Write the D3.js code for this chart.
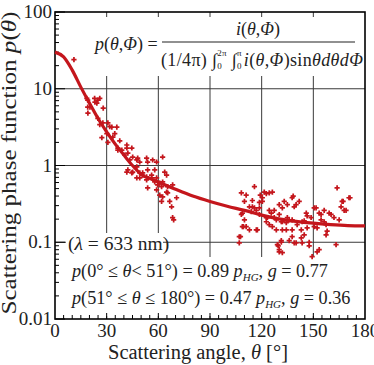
<!DOCTYPE html>
<html><head><meta charset="utf-8">
<script src="https://cdn.jsdelivr.net/npm/d3@7"></script>
<style>
html,body{margin:0;padding:0;background:#fff;}
</style></head>
<body>
<script>
// ---- data ----
const curveAngle = [0,5,10,15,20,25,30,35,40,45,51,55,60,70,80,90,100,110,120,130,140,150,160,170,180];
const curveValue = [30,26,17.5,10.5,6.5,4.1,2.75,1.9,1.37,1.0,0.74,0.68,0.61,0.49,0.40,0.34,0.295,0.26,0.226,0.202,0.187,0.177,0.17,0.165,0.163];

const obsPairs = [
[11,24],[19,7.1],[23,7.5],[26,7.5],[28,5.6],[19,5.75],
[18.5,7.5],[20.3,5.75],[23.2,6.7],[24.9,7.1],[24.3,6.5],[19.1,4.8],[24.9,4.1],[27.8,3.6],[30.7,3.6],[33,3.16],[35.9,3.16],[27.2,2.3],[30.1,2.6],[33.6,2.35],[37.6,2.1],[38.8,1.59],[36.5,1.69],[41.7,1.85],[44.6,1.69],[40.5,1.37],[45.1,1.29],[43.4,1.18],[48,1.25],[49.2,1.11],[53.2,1.25],[56.7,1.18],[47.5,0.96],[42.3,0.875],[45.1,0.82],[49.2,0.80],[50.9,0.75],[53.8,0.875],[56.1,0.75],[57.9,0.875],[62.5,1.29],[63.7,0.82],[59,0.69],[60.8,0.59],[53.2,0.65],[49.2,0.69],[64.8,0.75],[61.9,0.53],[65.4,0.53],[68.3,0.56],[64.8,0.45],
[26,3.4],[31.8,3.2],[34.7,2.6],[30.7,2.0],[41.7,1.69],[36.5,1.59],[42.3,1.45],[47.5,1.18],[53.8,1.11],[59,1.11],[41.7,0.82],[44.6,0.80],[47.5,0.69],[50.9,0.80],[53.2,0.71],[56.1,0.69],[57.9,0.61],[59.6,0.56],[62.5,0.61],[53.8,0.51],[59,0.48],[60.8,0.41],[62.5,0.39],[65.4,0.44],[70.6,0.38],[61.9,0.34],[66.6,0.34],[67.7,0.29],[68.3,0.21],[68.9,0.196],
[108.2,0.44],[111,0.41],[115.8,0.53],[110,0.34],[108.2,0.23],[110,0.196],[111,0.16],[116.9,0.145],[114.6,0.29],[116.9,0.26],[118.7,0.33],[120.4,0.38],[121.5,0.45],[124.4,0.44],[126.2,0.45],[118.7,0.23],[122.7,0.21],[125.6,0.24],[127.3,0.26],[130.2,0.31],[132,0.28],[133.1,0.34],[134.9,0.31],[137.7,0.38],[140,0.31],[141.8,0.34],[128.5,0.196],[132,0.185],[134.9,0.21],[137.7,0.196],[140.6,0.17],[143.5,0.185],[145.9,0.24],[148.7,0.21],[150.5,0.28],[153.4,0.24],[154.5,0.196],[156.3,0.26],[159.2,0.24],[162,0.21],[163.8,0.51],[166.7,0.34],[167.9,0.26],[170.7,0.38],[157.4,0.17],[150.5,0.16],[143,0.145],[137.7,0.145],[132,0.145],
[119.2,0.41],[122.7,0.43],[120.4,0.34],[114.6,0.35],[112.9,0.29],[108.8,0.24],[108.8,0.16],[112.9,0.145],[107,0.118],[107,0.098],[118.7,0.28],[124.4,0.26],[123.3,0.21],[127.3,0.21],[131.4,0.185],[134.3,0.18],[136,0.196],[138.9,0.29],[130.2,0.23],[124.4,0.17],[128.5,0.145],[134.3,0.145],[144.7,0.19],[146.4,0.22],[151.6,0.28],[154.5,0.23],[160.3,0.23],[156.3,0.185],[152.2,0.154],[146.4,0.154],[143,0.114],[137.7,0.118],[131.4,0.105],[129.1,0.093],[130.2,0.075],[138.9,0.098],[143.5,0.098],[147.6,0.09],[149.3,0.065],[152.2,0.075],[157.4,0.125],[158,0.14],[163.2,0.093],[165,0.196],[167.3,0.34],[169,0.26],[171.3,0.38],[166.1,0.29],[138.3,0.40],[115.8,0.28],[114,0.25],
[107.7,0.118],[109.4,0.16],[117.5,0.145],[122.7,0.185],[126.2,0.16],[130.2,0.08],[136,0.105],[140,0.098],[144.7,0.125],[153.4,0.08],[147.6,0.10],[132,0.073],[131.4,0.10],[129.6,0.09]
];
const obsAngle = obsPairs.map(d => d[0]);
const obsValue = obsPairs.map(d => d[1]);

const xTicks = [0,30,60,90,120,150,180];
const yTicks = [0.01,0.1,1,10,100];
const yTickLabels = ["0.01","0.1","1","10","100"];

// ---- layout ----
const W = 374, H = 365;
const L = 55, R = 365, T = 12, B = 319;
const red = "#c4161c";
const FONT = "Liberation Serif";

const svg = d3.select("body").append("svg").attr("width", W).attr("height", H)
  .style("display","block");
const x = d3.scaleLinear().domain([0,180]).range([L,R]);
const y = d3.scaleLog().domain([0.01,100]).range([B,T]);

function txt(sel) { return sel.append("text").attr("font-family", FONT).attr("fill","#222"); }

// grid
const grid = svg.append("g").attr("stroke","#3a3a3a").attr("stroke-width",1);
xTicks.filter(t => t>0 && t<180).forEach(t => {
  grid.append("line").attr("x1",x(t)).attr("x2",x(t)).attr("y1",T).attr("y2",B);
});
[0.1,1,10].forEach(t => {
  grid.append("line").attr("x1",L).attr("x2",R).attr("y1",y(t)).attr("y2",y(t));
});

// white boxes behind annotations
svg.append("rect").attr("x",88).attr("y",17).attr("width",274).attr("height",59).attr("fill","#fff");
svg.append("rect").attr("x",66).attr("y",233).attr("width",97).attr("height",25).attr("fill","#fff");
svg.append("rect").attr("x",66).attr("y",257).attr("width",284).attr("height",59).attr("fill","#fff");

// ticks (inside)
const tk = svg.append("g").attr("stroke","#000").attr("stroke-width",1);
d3.range(5,180,5).forEach(t => {
  const len = t % 30 === 0 ? 6 : 4;
  tk.append("line").attr("x1",x(t)).attr("x2",x(t)).attr("y1",B).attr("y2",B-len);
});
[0.01,0.1,1,10].forEach(dec => {
  d3.range(2,10).forEach(m => {
    const v = dec*m;
    tk.append("line").attr("x1",L).attr("x2",L+4).attr("y1",y(v)).attr("y2",y(v));
  });
});
yTicks.forEach(t => {
  tk.append("line").attr("x1",L).attr("x2",L+10).attr("y1",y(t)).attr("y2",y(t));
});

// frame
svg.append("rect").attr("x",L).attr("y",T).attr("width",R-L).attr("height",B-T)
  .attr("fill","none").attr("stroke","#000").attr("stroke-width",1.6);

// fitted curve
const line = d3.line().x(d => x(d[0])).y(d => y(d[1])).curve(d3.curveMonotoneX);
svg.append("path").datum(curveAngle.map((a,i)=>[a,curveValue[i]]))
  .attr("d",line).attr("fill","none").attr("stroke",red).attr("stroke-width",3.2);

// observations
const sym = d3.symbol().type(d3.symbolCross).size(15);
svg.append("g").selectAll("path").data(obsAngle.map((a,i)=>[a,obsValue[i]])).join("path")
  .attr("d",sym).attr("fill",red)
  .attr("transform",d => `translate(${x(d[0])},${y(d[1])})`);

// tick labels
xTicks.forEach(t => {
  txt(svg).attr("font-size",19).attr("x",x(t)).attr("y",337).attr("text-anchor","middle").text(t);
});
yTicks.forEach((t,i) => {
  txt(svg).attr("font-size",19).attr("x",L-3).attr("y",y(t)+6).attr("text-anchor","end").text(yTickLabels[i]);
});

// axis titles
const xt = txt(svg).attr("x",198).attr("y",359).attr("text-anchor","middle").attr("font-size",20.5);
xt.append("tspan").text("Scattering angle, ");
xt.append("tspan").attr("font-style","italic").text("θ");
xt.append("tspan").text(" [°]");

const yt = txt(svg).attr("transform","translate(16,163) rotate(-90)").attr("text-anchor","middle").attr("font-size",20)
  .attr("textLength",303).attr("lengthAdjust","spacingAndGlyphs");
yt.append("tspan").text("Scattering phase function ");
yt.append("tspan").attr("font-style","italic").text("p");
yt.append("tspan").text("(");
yt.append("tspan").attr("font-style","italic").text("θ");
yt.append("tspan").text(")");

// formula
const fs = 18;
const f1 = txt(svg).attr("x",95).attr("y",50).attr("font-size",fs);
f1.append("tspan").attr("font-style","italic").text("p");
f1.append("tspan").text("(");
f1.append("tspan").attr("font-style","italic").text("θ");
f1.append("tspan").text(",");
f1.append("tspan").attr("font-style","italic").text("Φ");
f1.append("tspan").text(") =");

const num = txt(svg).attr("x",258).attr("y",35).attr("text-anchor","middle").attr("font-size",fs);
num.append("tspan").attr("font-style","italic").text("i");
num.append("tspan").text("(");
num.append("tspan").attr("font-style","italic").text("θ");
num.append("tspan").text(",");
num.append("tspan").attr("font-style","italic").text("Φ");
num.append("tspan").text(")");

svg.append("line").attr("x1",162).attr("x2",355).attr("y1",42).attr("y2",42).attr("stroke","#222").attr("stroke-width",1.2);

const den = txt(svg).attr("x",161).attr("y",66).attr("font-size",fs).attr("letter-spacing",0.35);
den.append("tspan").text("(1/4π) ");
den.append("tspan").text("∫");
den.append("tspan").attr("font-size",9).attr("dy",3).text("0");
den.append("tspan").attr("font-size",9).attr("dx",-5).attr("dy",-13).text("2π");
den.append("tspan").attr("dy",10).text(" ∫");
den.append("tspan").attr("font-size",9).attr("dy",3).text("0");
den.append("tspan").attr("font-size",9).attr("dx",-5).attr("dy",-13).text("π");
den.append("tspan").attr("dy",10).attr("dx",2).attr("font-style","italic").text("i");
den.append("tspan").text("(");
den.append("tspan").attr("font-style","italic").text("θ");
den.append("tspan").text(",");
den.append("tspan").attr("font-style","italic").text("Φ");
den.append("tspan").text(")sin");
den.append("tspan").attr("font-style","italic").text("θdθdΦ");

// annotations
const a1 = txt(svg).attr("x",68).attr("y",250).attr("font-size",19.5);
a1.append("tspan").text("(");
a1.append("tspan").attr("font-style","italic").text("λ");
a1.append("tspan").text(" = 633 nm)");

function annot(yy, range, k, g) {
  const t = txt(svg).attr("x",72).attr("y",yy).attr("font-size",18.2);
  t.append("tspan").attr("font-style","italic").text("p");
  t.append("tspan").text("(" + range[0]);
  t.append("tspan").attr("font-style","italic").text("θ");
  t.append("tspan").text(range[1] + ") = " + k + " ");
  t.append("tspan").attr("font-style","italic").text("p");
  t.append("tspan").attr("font-style","italic").attr("font-size",11).attr("dy",4).text("HG");
  t.append("tspan").attr("dy",-4).text(", ");
  t.append("tspan").attr("font-style","italic").text("g");
  t.append("tspan").text(" = " + g);
}
annot(277, ["0° ≤ ", "< 51°"], "0.89", "0.77");
annot(304, ["51° ≤ ", " ≤ 180°"], "0.47", "0.36");
</script>
</body></html>
